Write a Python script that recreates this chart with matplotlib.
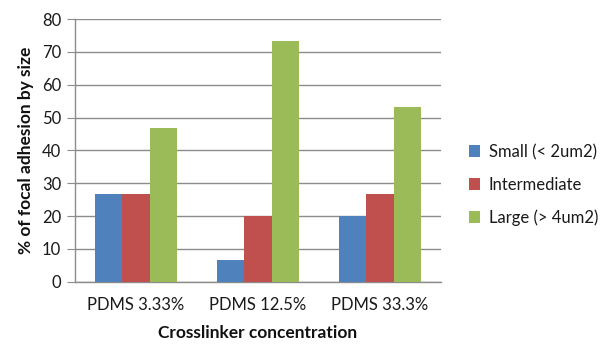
import numpy as np
import matplotlib.pyplot as plt

plt.rcParams['font.family'] = ['Lato', 'DejaVu Sans']

categories = ['PDMS 3.33%', 'PDMS 12.5%', 'PDMS 33.3%']
series_names = ['Small (< 2um2)', 'Intermediate', 'Large (> 4um2)']
small = [26.67, 6.67, 20.0]
intermediate = [26.67, 20.0, 26.67]
large = [46.67, 73.33, 53.33]
colors = ['#4F81BD', '#C0504D', '#9BBB59']

fig = plt.figure(figsize=(6.03, 3.46), dpi=100)
ax = fig.add_axes([75 / 603, 1 - 281.7 / 346, 366 / 603, (281.7 - 19) / 346])

x = np.arange(len(categories))
width = 0.222
for i, (vals, name) in enumerate(zip([small, intermediate, large], series_names)):
    ax.bar(x + (i - 1) * width, vals, width, color=colors[i], label=name, zorder=3)

ax.set_xlim(-0.5, 2.5)
ax.set_ylim(0, 80)
ax.set_yticks(range(0, 81, 10))
ax.set_xticks(x)
ax.set_xticklabels(categories)
ax.yaxis.grid(True, color='#8c8c8c', linewidth=1, zorder=0)

for side in ['top', 'right']:
    ax.spines[side].set_visible(False)
for side in ['left', 'bottom']:
    ax.spines[side].set_color('#8c8c8c')
    ax.spines[side].set_linewidth(1)

ax.tick_params(axis='y', length=6, color='#8c8c8c', labelsize=12, pad=4, labelcolor='#1a1a1a')
ax.tick_params(axis='x', length=0, labelsize=12, pad=11, labelcolor='#1a1a1a')

ax.set_ylabel('% of focal adhesion by size', fontsize=12.5, weight='bold', labelpad=6, color='#111111')
ax.set_xlabel('Crosslinker concentration', fontsize=12.5, weight='bold', labelpad=9, color='#111111')

fig.legend(loc='center left', bbox_to_anchor=(462 / 603, 1 - 185 / 346), frameon=False,
           fontsize=12, handlelength=0.7, handleheight=0.7, handletextpad=0.5,
           labelspacing=1.0, borderaxespad=0, labelcolor='#1a1a1a')

fig.savefig('out.png', dpi=100)
